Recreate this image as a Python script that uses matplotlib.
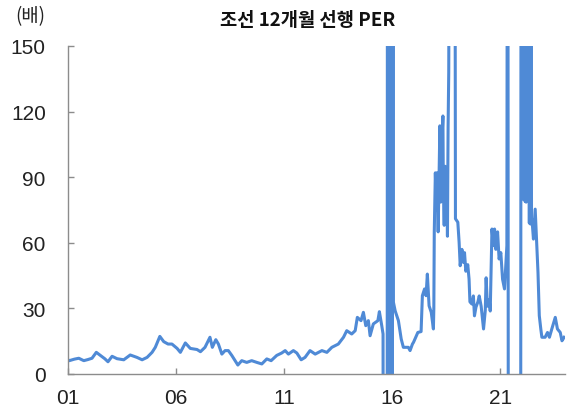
import matplotlib
matplotlib.use("Agg")
import matplotlib.pyplot as plt

# 조선 업종 12개월 선행 PER (연도 소수 표기, 배)
years = [
    2001.00, 2001.06, 2001.30, 2001.50, 2001.73, 2001.92, 2002.11, 2002.31, 2002.50, 2002.70,
    2002.85, 2003.04, 2003.27, 2003.58, 2003.88, 2004.19, 2004.43, 2004.66, 2004.89, 2005.04,
    2005.25, 2005.43, 2005.63, 2005.81, 2006.05, 2006.20, 2006.43, 2006.66, 2006.97, 2007.13,
    2007.34, 2007.57, 2007.68, 2007.84, 2007.96, 2008.12, 2008.27, 2008.42, 2008.58, 2008.86,
    2009.04, 2009.27, 2009.50, 2009.74, 2009.97, 2010.20, 2010.40, 2010.66, 2010.89, 2011.05,
    2011.20, 2011.43, 2011.59, 2011.79, 2011.97, 2012.20, 2012.44, 2012.75, 2012.98, 2013.21,
    2013.51, 2013.75, 2013.90, 2014.13, 2014.29, 2014.39, 2014.56, 2014.67, 2014.78, 2014.90,
    2014.98, 2015.13, 2015.34, 2015.41, 2015.52, 2015.58,
    # 2015년 하반기 이익 부호 전환 구간
    2015.61, 2015.76, 2015.79, 2015.82, 2015.85, 2015.88, 2015.91, 2015.94, 2015.97, 2016.00,
    2016.04, 2016.06, 2016.14, 2016.29, 2016.42, 2016.52, 2016.60, 2016.75, 2016.83, 2016.94,
    2016.99, 2017.19, 2017.34, 2017.40, 2017.50, 2017.57, 2017.63, 2017.71, 2017.81, 2017.91,
    2017.93, 2017.95, 2018.00, 2018.05, 2018.08, 2018.13, 2018.17, 2018.21, 2018.25, 2018.30,
    2018.35, 2018.37, 2018.41, 2018.45, 2018.50, 2018.53, 2018.56, 2018.59, 2018.62, 2018.67,
    2018.80, 2018.90, 2018.93, 2019.04, 2019.10, 2019.15, 2019.23, 2019.30, 2019.35, 2019.41,
    2019.50, 2019.56, 2019.60, 2019.69, 2019.76, 2019.81, 2019.88, 2019.97, 2020.03, 2020.12,
    2020.23, 2020.31, 2020.35, 2020.41, 2020.49, 2020.54, 2020.62, 2020.69, 2020.74, 2020.80,
    2020.88, 2020.95, 2021.03, 2021.11, 2021.20, 2021.26, 2021.31, 2021.35, 2021.39, 2021.65,
    2021.94, 2021.97,
    # 2022년 상반기 고PER 구간
    2022.000, 2022.025, 2022.050, 2022.075, 2022.100, 2022.125, 2022.150, 2022.175, 2022.200,
    2022.225, 2022.250, 2022.275, 2022.300, 2022.325, 2022.350, 2022.375, 2022.400, 2022.425,
    2022.450,
    2022.47, 2022.54, 2022.62, 2022.70, 2022.75, 2022.81, 2022.88, 2022.93,
    2023.08, 2023.19, 2023.28, 2023.39, 2023.55, 2023.65, 2023.78, 2023.86, 2023.96,
]
per = [
    6.5, 6.1, 6.8, 7.2, 6.1, 6.6, 7.2, 9.9, 8.5, 7.0,
    5.6, 8.1, 7.0, 6.5, 8.7, 7.6, 6.5, 7.6, 9.9, 12.2,
    17.2, 14.8, 13.7, 13.7, 11.7, 9.9, 14.2, 11.7, 11.2, 10.2,
    12.2, 16.8, 12.2, 15.7, 13.7, 9.1, 10.7, 10.7, 8.5, 4.1,
    6.1, 5.3, 6.1, 5.3, 4.6, 6.9, 6.1, 8.5, 9.6, 10.7,
    9.1, 10.7, 9.6, 6.5, 7.6, 10.7, 9.1, 10.7, 9.9, 12.2,
    13.7, 16.8, 19.8, 18.3, 19.8, 25.9, 24.4, 28.2, 22.1, 24.4,
    17.5, 22.9, 24.4, 28.5, 22.1, 18.3,
    -300, -300, 400, -300, 400, -300, 400, -300, 400, -200,
    400, 32.8, 28.9, 24.4, 16.0, 12.2, 12.2, 12.2, 10.7, 13.7,
    14.5, 19.0, 19.4, 35.8, 38.9, 35.8, 45.7, 31.2, 28.2, 20.6,
    30.0, 64.8, 92.0, 75.0, 92.0, 65.0, 88.0, 113.5, 78.6, 105.0,
    118.0, 85.0, 68.0, 95.0, 75.0, 90.0, 63.0, 113.0, 138.0, 300,
    400, 300, 71.0, 69.4, 60.2, 49.5, 57.0, 51.0, 55.5, 47.0,
    50.0, 43.4, 33.0, 32.0, 35.7, 26.6, 30.6, 33.0, 35.7, 31.0,
    20.6, 29.0, 44.0, 31.0, 34.0, 28.8, 66.3, 58.7, 66.3, 57.0,
    65.0, 52.6, 55.5, 43.4, 38.9, 49.5, 58.7, 400, -300, -400,
    -200, 300,
    81.5, 300, 80.0, 400, 82.0, 250, 79.0, 300, 78.6, 400,
    84.0, 250, 83.7, 300, 69.0, 400, 68.6, 250, 70.0,
    70.9, 61.7, 75.4, 57.1, 46.5, 26.7, 20.6, 16.8,
    16.8, 19.0, 16.8, 20.6, 25.9, 20.6, 19.0, 15.2, 16.8,
]

x_ticks = [2001, 2006, 2011, 2016, 2021]
x_tick_labels = ["01", "06", "11", "16", "21"]
y_ticks = [0, 30, 60, 90, 120, 150]

line_color = "#4f8ad6"
axis_color = "#8c8c8c"

fig = plt.figure(figsize=(5.72, 4.10), dpi=100)
ax = fig.add_axes([68 / 572, 35 / 410, 497 / 572, 328 / 410])

ax.plot(years, per, color=line_color, linewidth=2.2, solid_joinstyle="round")

ax.set_xlim(2001, 2024.0)
ax.set_ylim(0, 150)
ax.set_xticks(x_ticks)
ax.set_xticklabels(x_tick_labels)
ax.set_yticks(y_ticks)

for side in ("top", "right"):
    ax.spines[side].set_visible(False)
for side in ("left", "bottom"):
    ax.spines[side].set_color(axis_color)
    ax.spines[side].set_linewidth(1.0)

ax.tick_params(axis="both", direction="in", length=4, width=1.0, color=axis_color,
               labelsize=15, labelcolor="#222222")
ax.tick_params(axis="y", pad=16)
ax.tick_params(axis="x", pad=10)
for lbl in ax.get_xticklabels() + ax.get_yticklabels():
    lbl.set_family(["Liberation Sans", "DejaVu Sans"])

fig.text(308 / 572, 1 - 20 / 410, "조선 12개월 선행 PER", ha="center", va="center",
         fontsize=13.5, fontweight="bold", family=["Noto Sans CJK KR", "DejaVu Sans"],
         color="#111111")
fig.text(30 / 572, 1 - 17 / 410, "(배)", ha="center", va="center",
         fontsize=13.5, family=["Noto Sans CJK KR", "DejaVu Sans"], color="#222222")

fig.savefig("out.png", dpi=100)
